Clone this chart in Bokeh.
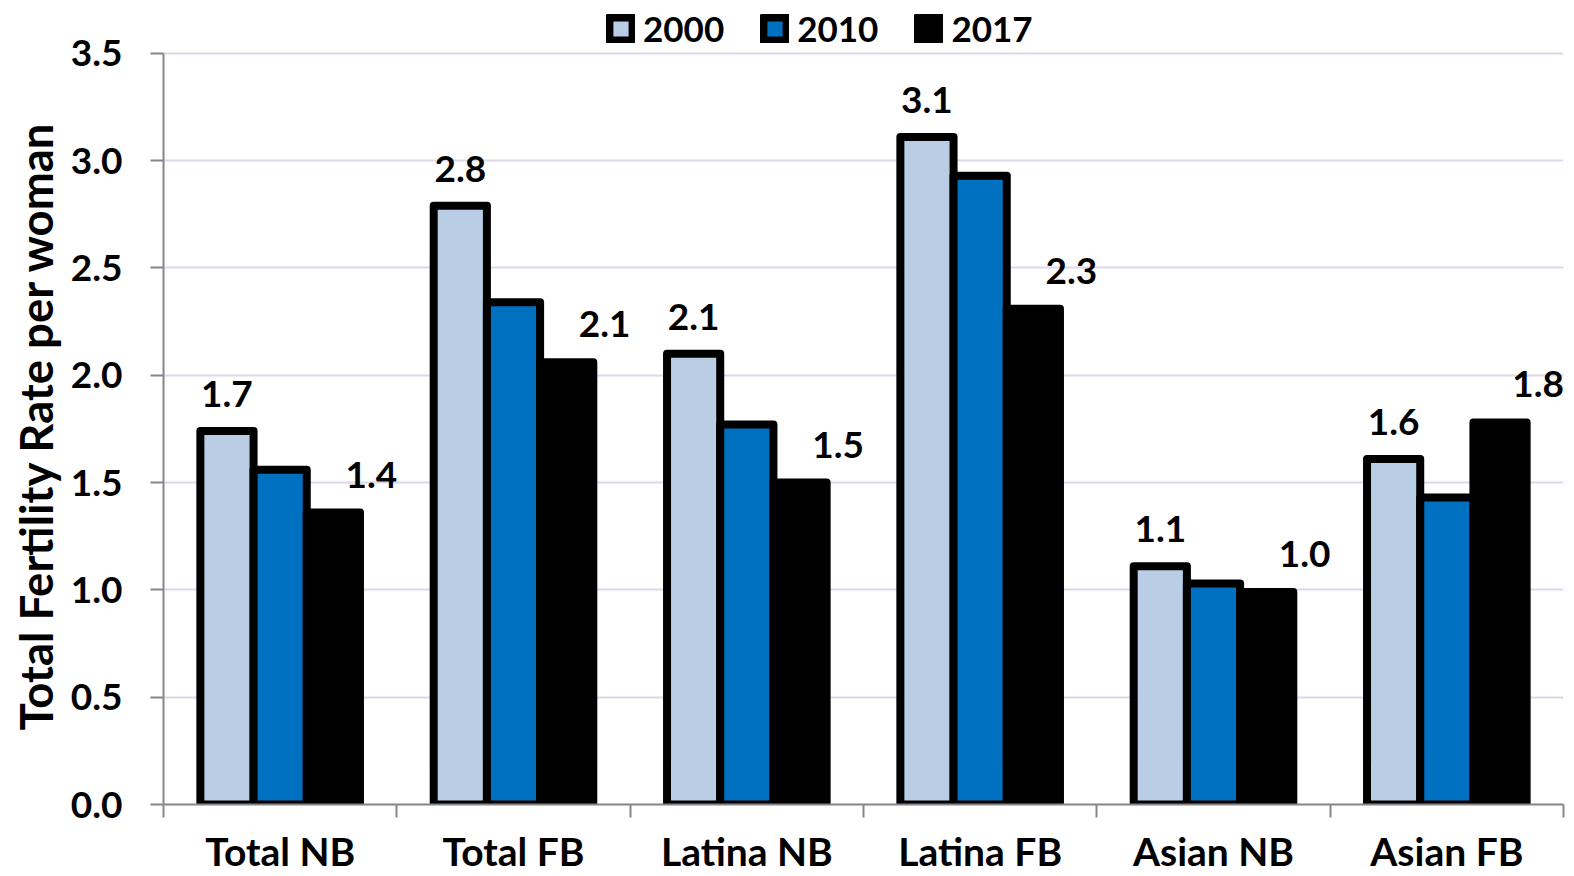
from bokeh.plotting import figure
from bokeh.models import (ColumnDataSource, Range1d, FixedTicker, LabelSet, Legend,
                          LegendItem, PrintfTickFormatter, Title)
from bokeh.core.properties import value
from bokeh.transform import dodge
from bokeh.embed import file_html
from bokeh.resources import INLINE

categories = ["Total NB", "Total FB", "Latina NB", "Latina FB", "Asian NB", "Asian FB"]
years = ["2000", "2010", "2017"]
tfr_2000 = [1.74, 2.79, 2.10, 3.11, 1.11, 1.61]
tfr_2010 = [1.56, 2.34, 1.77, 2.93, 1.03, 1.43]
tfr_2017 = [1.36, 2.06, 1.50, 2.31, 0.99, 1.78]
y_ticks = [0.0, 0.5, 1.0, 1.5, 2.0, 2.5, 3.0, 3.5]
y_title = "Total Fertility Rate per woman"

colors = ["#B9CDE5", "#0070C0", "#000000"]
FONT = "Lato"

centers = [i + 0.5 for i in range(len(categories))]
bounds = [float(i) for i in range(len(categories) + 1)]

src = ColumnDataSource(dict(
    x=centers,
    y2000=tfr_2000, y2010=tfr_2010, y2017=tfr_2017,
    lab2000=[f"{v:.1f}" for v in tfr_2000],
    lab2017=[f"{v:.1f}" for v in tfr_2017],
))

# frame: x 163..1563, y 0..804 ; the value axis shows 0..3.5 (3.5 at ~52px), room above for the legend
p = figure(width=1574, height=876, x_range=Range1d(0, len(categories)), y_range=Range1d(0, 3.746),
           output_backend="svg", toolbar_location=None,
           min_border_left=163, min_border_right=11, min_border_top=0, min_border_bottom=72)
p.outline_line_color = None
p.background_fill_color = "white"

bw = 0.228
offsets = [-bw, 0.0, bw]
renderers = []
for col, off, c in zip(["y2000", "y2010", "y2017"], offsets, colors):
    r = p.vbar(x=dodge("x", off, range=p.x_range), top=col, width=bw, source=src,
               fill_color=c, line_color="black", line_width=8, line_join="round")
    renderers.append(r)

lab_common = dict(source=src, text_font=value(FONT), text_font_style="bold", text_font_size="37px",
                  text_color="black", text_align="center", text_baseline="middle")
p.add_layout(LabelSet(x=dodge("x", -bw, range=p.x_range), y="y2000", text="lab2000",
                      y_offset=37, **lab_common))
p.add_layout(LabelSet(x=dodge("x", bw, range=p.x_range), y="y2017", text="lab2017",
                      x_offset=38, y_offset=38, **lab_common))

# axes
axis_gray = "#868686"
xa = p.xaxis[0]
xa.ticker = FixedTicker(ticks=centers, minor_ticks=bounds)
xa.major_label_overrides = {c: name for c, name in zip(centers, categories)}
xa.major_tick_out = 0
xa.major_tick_in = 0
xa.minor_tick_out = 13
xa.minor_tick_in = 0
xa.minor_tick_line_color = axis_gray
xa.minor_tick_line_width = 2
xa.axis_line_color = axis_gray
xa.axis_line_width = 2
xa.major_label_text_font = FONT
xa.major_label_text_font_style = "bold"
xa.major_label_text_font_size = "39px"
xa.major_label_text_color = "black"
xa.major_label_standoff = 10

ya = p.yaxis[0]
ya.ticker = FixedTicker(ticks=y_ticks, minor_ticks=[])
ya.bounds = (0, 3.5)
ya.formatter = PrintfTickFormatter(format="%.1f")
ya.major_tick_out = 13
ya.major_tick_in = 0
ya.major_tick_line_color = axis_gray
ya.major_tick_line_width = 2
ya.minor_tick_line_color = None
ya.axis_line_color = axis_gray
ya.axis_line_width = 2
ya.major_label_text_font = FONT
ya.major_label_text_font_style = "bold"
ya.major_label_text_font_size = "37px"
ya.major_label_text_color = "black"
ya.major_label_standoff = 28

p.add_layout(Title(text=y_title, align="left", offset=74, text_font=FONT,
                   text_font_style="bold", text_font_size="45.5px", text_color="black"), "left")

p.xgrid.grid_line_color = None
p.ygrid.grid_line_color = "#DED7EC"
p.ygrid.grid_line_width = 2

# legend sits at the top of the frame (location = bottom-left of legend, from frame bottom-left)
legend = Legend(items=[LegendItem(label=y, renderers=[r]) for y, r in zip(years, renderers)],
                orientation="horizontal", location=(443, 755),
                glyph_width=29, glyph_height=29, label_standoff=8, spacing=36,
                padding=0, margin=0, border_line_color=None, background_fill_alpha=0,
                label_text_font=FONT, label_text_font_style="bold", label_text_font_size="35px",
                label_text_color="black")
p.add_layout(legend, "center")

open("out.html", "w").write(file_html(p, INLINE))
